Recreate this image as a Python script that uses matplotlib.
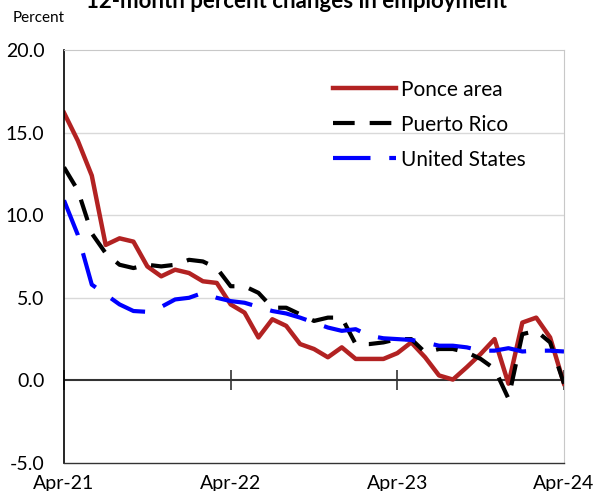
import matplotlib
matplotlib.use("Agg")
import matplotlib.pyplot as plt

months = list(range(37))
tick_pos = [0, 12, 24, 36]
tick_labels = ["Apr-21", "Apr-22", "Apr-23", "Apr-24"]

ponce = [16.2, 14.5, 12.4, 8.2, 8.6, 8.4, 6.9, 6.3, 6.7, 6.5, 6.0, 5.9,
         4.6, 4.1, 2.6, 3.7, 3.3, 2.2, 1.9, 1.4, 2.0, 1.3, 1.3, 1.3,
         1.65, 2.3, 1.4, 0.3, 0.05, 0.8, 1.6, 2.5, -0.2, 3.5, 3.8, 2.6, -0.2]
puerto_rico = [12.9, 11.5, 8.9, 7.7, 7.0, 6.8, 7.0, 6.9, 7.0, 7.3, 7.2, 6.8,
               5.7, 5.7, 5.3, 4.4, 4.4, 4.0, 3.6, 3.8, 3.8, 2.2, 2.2, 2.3,
               2.5, 2.5, 1.7, 1.9, 1.9, 1.7, 1.3, 0.7, -1.1, 2.8, 3.0, 2.3, -0.2]
united_states = [10.9, 8.8, 5.8, 5.2, 4.6, 4.2, 4.15, 4.45, 4.9, 5.0, 5.3, 5.0,
                 4.8, 4.7, 4.45, 4.2, 4.05, 3.8, 3.5, 3.2, 3.0, 3.1, 2.7, 2.55,
                 2.5, 2.45, 2.3, 2.1, 2.1, 2.0, 1.8, 1.8, 1.95, 1.75, 1.8, 1.8, 1.75]

plt.rcParams["font.family"] = ["Lato", "DejaVu Sans"]

fig = plt.figure(figsize=(5.93, 4.91), dpi=100)
ax = fig.add_axes([64 / 593, 1 - 463 / 491, 500 / 593, 413 / 491])

ax.plot(months, ponce, color="#B22222", lw=3.2, label="Ponce area")
ax.plot(months, puerto_rico, color="black", lw=3.0, dashes=(5.2, 3.6), label="Puerto Rico")
ax.plot(months, united_states, color="#0000FF", lw=3.0, dashes=(9.0, 4.5), label="United States")

ax.set_xlim(0, 36)
ax.set_ylim(-5, 20)
ax.set_yticks([-5, 0, 5, 10, 15, 20])
ax.set_yticklabels([f"{v:.1f}" for v in [-5, 0, 5, 10, 15, 20]])
ax.set_xticks(tick_pos)
ax.set_xticklabels(tick_labels)
ax.tick_params(axis="both", labelsize=14, length=0)
ax.tick_params(axis="x", pad=9)
ax.tick_params(axis="y", pad=14)

for y in [5, 10, 15]:
    ax.axhline(y, color="#D9D9D9", lw=1.0, zorder=0)
ax.axhline(0, color="#333333", lw=1.5, zorder=1)

# tick marks sit on the zero line
zero_axis = ax.secondary_xaxis(0.2)
zero_axis.set_xticks(tick_pos)
zero_axis.set_xticklabels([])
zero_axis.tick_params(direction="inout", length=14, width=1.2, color="#333333")
zero_axis.spines["bottom"].set_visible(False)

ax.spines["left"].set_color("black")
ax.spines["left"].set_linewidth(1.2)
ax.spines["bottom"].set_color("#333333")
ax.spines["bottom"].set_linewidth(1.0)
ax.spines["top"].set_color("#C8C8C8")
ax.spines["right"].set_color("#C8C8C8")

ax.legend(loc="upper left", bbox_to_anchor=(0.53, 0.876), bbox_transform=fig.transFigure,
          frameon=False, fontsize=15, handlelength=3.0, handletextpad=0.25,
          labelspacing=0.72)

fig.text(13 / 593, 1 - 18 / 491, "Percent", fontsize=11, va="center", ha="left")
fig.text(0.5, 1 - 2 / 491, "12-month percent changes in employment", fontsize=16,
         fontweight="bold", ha="center", va="center")

fig.savefig("out.png", dpi=100)
